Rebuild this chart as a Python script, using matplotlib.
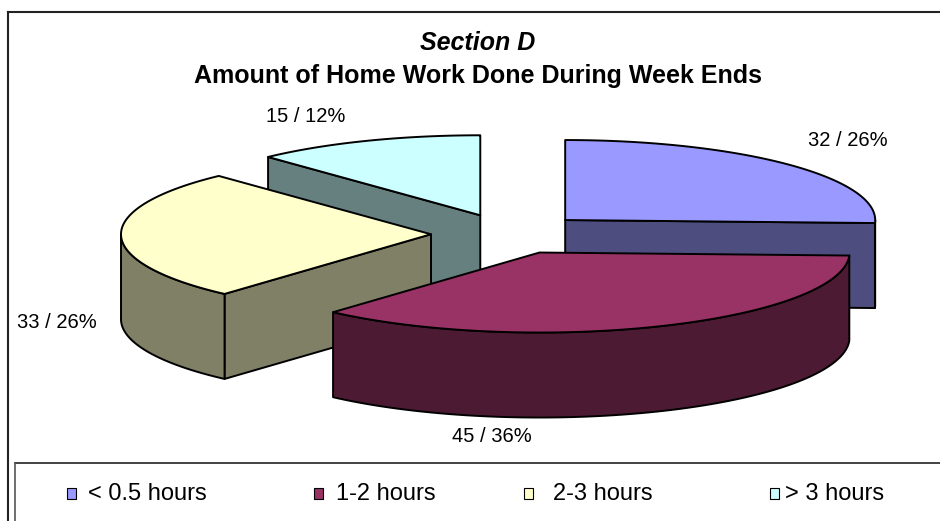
import numpy as np
import matplotlib.pyplot as plt
from matplotlib.patches import Polygon, Rectangle

plt.rcParams['font.family'] = ['Liberation Sans', 'DejaVu Sans']

# data
labels = ['< 0.5 hours', '1-2 hours', '2-3 hours', '> 3 hours']
counts = [32, 45, 33, 15]
percents = [26, 36, 26, 12]

top_colors = ['#9999FF', '#993366', '#FFFFCC', '#CCFFFF']
side_colors = ['#4D4D80', '#4D1A33', '#808066', '#668080']

# 3d pie layout (pixels)
cx, cy = 509, 234
rx, ry = 310, 80
depth = 85
explode = 78

label_pos = [(848, 140), (492, 437), (57, 322), (306, 117)]
legend_box_x = [67, 314, 524, 770]
legend_text_x = [88, 336, 553, 785]
legend_y = 494

fig = plt.figure(figsize=(9.4, 5.21), dpi=100)
ax = fig.add_axes([0, 0, 1, 1])
ax.set_xlim(0, 940)
ax.set_ylim(521, 0)
ax.axis('off')


def rim(x0, y0, a):
    a = np.radians(a)
    return x0 + rx * np.cos(a), y0 - ry * np.sin(a)


def front_part(lo, hi):
    # pieces of [lo, hi] (degrees) where the rim faces the viewer
    out = []
    for k in range(-2, 2):
        a, b = max(lo, -180 + 360 * k), min(hi, 360 * k)
        if b > a:
            out.append((a, b))
    return out


total = sum(counts)
starts = 90 - 360 * np.cumsum([0] + counts[:-1]) / total
ends = starts - 360 * np.array(counts) / total

slices = []
for i in range(len(counts)):
    mid = np.radians((starts[i] + ends[i]) / 2)
    px = cx + explode * np.cos(mid)
    py = cy - explode * ry / rx * np.sin(mid)
    slices.append((py, i, px))

kw = dict(edgecolor='black', linewidth=1.4, joinstyle='round')
for py, i, px in sorted(slices):
    s, e = starts[i], ends[i]
    # radial walls
    for a, normal in ((s, s + 90), (e, e - 90)):
        if np.sin(np.radians(normal)) < -1e-6:
            x1, y1 = rim(px, py, a)
            ax.add_patch(Polygon([(px, py), (x1, y1), (x1, y1 + depth), (px, py + depth)],
                                 facecolor=side_colors[i], **kw))
    # curved outer wall
    for a, b in front_part(e, s):
        t = np.linspace(a, b, 80)
        xs, ys = rim(px, py, t)
        pts = list(zip(xs, ys)) + list(zip(xs[::-1], ys[::-1] + depth))
        ax.add_patch(Polygon(pts, facecolor=side_colors[i], **kw))
    # top face
    t = np.linspace(s, e, 200)
    xs, ys = rim(px, py, t)
    pts = [(px, py)] + list(zip(xs, ys))
    ax.add_patch(Polygon(pts, facecolor=top_colors[i], **kw))

for i in range(len(counts)):
    ax.text(label_pos[i][0], label_pos[i][1], f'{counts[i]} / {percents[i]}%',
            fontsize=14.5, ha='center', va='center')

ax.text(478, 43, 'Section D', fontsize=18, fontweight='bold', fontstyle='italic',
        ha='center', va='center')
ax.text(478, 76, 'Amount of Home Work Done During Week Ends', fontsize=18,
        fontweight='bold', ha='center', va='center')

# chart frame and legend box
ax.plot([8, 940], [12, 12], color='#222222', lw=1.5)
ax.plot([8, 8], [12, 521], color='#222222', lw=1.5)
ax.plot([15, 940], [463, 463], color='#222222', lw=1.2)
ax.plot([15, 15], [463, 521], color='#555555', lw=1.2)

for i in range(len(labels)):
    ax.add_patch(Rectangle((legend_box_x[i], legend_y - 6), 9, 11,
                           facecolor=top_colors[i], edgecolor='black', lw=0.8))
    ax.text(legend_text_x[i], legend_y, labels[i], fontsize=17, ha='left', va='center')

fig.savefig('out.png', dpi=100)
